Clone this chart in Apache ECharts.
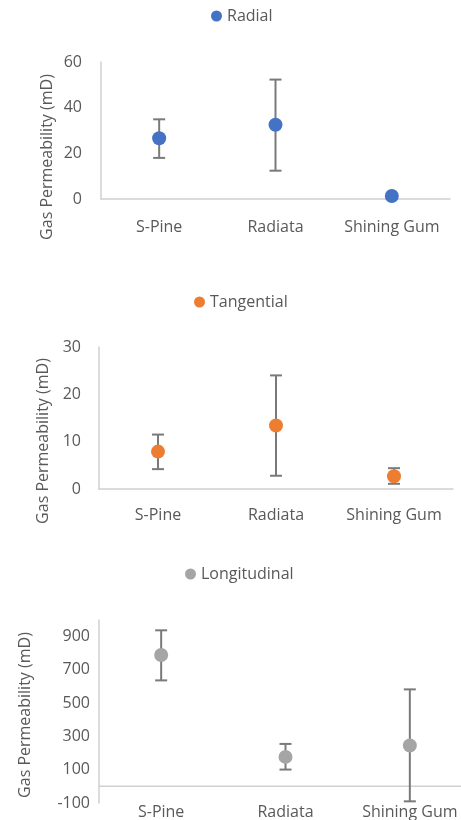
<!DOCTYPE html>
<html>
<head>
<meta charset="utf-8">
<script src="https://cdn.jsdelivr.net/npm/echarts@6/dist/echarts.min.js"></script>
<style>
  html, body { margin: 0; padding: 0; background: #ffffff; }
  #chart { width: 461px; height: 820px; }
</style>
</head>
<body>
<div id="chart"></div>
<script>
// Wood species along the horizontal axis
const categories = ['S-Pine', 'Radiata', 'Shining Gum'];

// Radial direction: mean gas permeability (mD) and error-bar limits
const radialMean = [26.6, 32.5, 1.3];
const radialLow = [18.0, 12.4, 0.9];
const radialHigh = [34.9, 52.3, 1.7];

// Tangential direction
const tangentialMean = [7.9, 13.4, 2.7];
const tangentialLow = [4.2, 2.8, 1.1];
const tangentialHigh = [11.5, 24.0, 4.4];

// Longitudinal direction
const longitudinalMean = [790, 177, 246];
const longitudinalLow = [637, 101, -90];
const longitudinalHigh = [938, 255, 583];

// Value-axis tick labels for each panel
const radialTicks = [0, 20, 40, 60];
const tangentialTicks = [0, 10, 20, 30];
const longitudinalTicks = [-100, 100, 300, 500, 700, 900];

// level at which the longitudinal panel's horizontal axis crosses
const longitudinalCross = [0];

const FONT = '"Open Sans", "Liberation Sans", sans-serif';
const TEXT = '#595959';
const AXIS = '#d0d0d0';
const BAR = '#7a7a7a';

const chart = echarts.init(document.getElementById('chart'), null, { renderer: 'canvas' });

function errorBars(params, api) {
  const idx = api.value(0);
  const top = api.coord([idx, api.value(2)]);
  const bot = api.coord([idx, api.value(1)]);
  const w = 6;
  const style = { stroke: BAR, lineWidth: 2 };
  return {
    type: 'group',
    children: [
      { type: 'line', shape: { x1: top[0], y1: top[1], x2: bot[0], y2: bot[1] }, style },
      { type: 'line', shape: { x1: top[0] - w, y1: top[1], x2: top[0] + w, y2: top[1] }, style },
      { type: 'line', shape: { x1: bot[0] - w, y1: bot[1], x2: bot[0] + w, y2: bot[1] }, style }
    ]
  };
}

// full-width horizontal rule at a value level
function crossLine(params, api) {
  const cs = params.coordSys;
  const y = api.coord([0, api.value(0)])[1];
  return {
    type: 'line',
    shape: { x1: cs.x, y1: y, x2: cs.x + cs.width, y2: y },
    style: { stroke: AXIS, lineWidth: 1.5 }
  };
}

function barData(low, high) {
  return categories.map((c, i) => [i, low[i], high[i]]);
}

function catAxis(gridIndex, margin, showLine) {
  return {
    type: 'category',
    gridIndex,
    data: categories,
    boundaryGap: true,
    axisTick: { show: false },
    axisLine: { show: showLine, onZero: false, lineStyle: { color: AXIS, width: 1.5 } },
    axisLabel: { color: TEXT, fontFamily: FONT, fontSize: 16, margin, interval: 0 },
    splitLine: { show: false }
  };
}

function valAxis(gridIndex, min, max, ticks, margin) {
  return {
    type: 'value',
    gridIndex,
    min,
    max,
    axisLine: { show: true, lineStyle: { color: AXIS, width: 1.5 } },
    axisTick: { show: false },
    splitLine: { show: false },
    axisLabel: {
      color: TEXT, fontFamily: FONT, fontSize: 16, margin,
      customValues: ticks
    }
  };
}

function legend(name, left, top) {
  return {
    data: [name],
    left, top,
    padding: 0,
    icon: 'circle',
    itemWidth: 11,
    itemHeight: 11,
    selectedMode: false,
    textStyle: { color: TEXT, fontFamily: FONT, fontSize: 16 }
  };
}

function yTitle(x, y) {
  return {
    type: 'text',
    x, y,
    rotation: Math.PI / 2,
    silent: true,
    style: {
      text: 'Gas Permeability (mD)',
      fill: TEXT,
      font: '16px ' + FONT,
      textAlign: 'center',
      textVerticalAlign: 'middle'
    }
  };
}

function points(name, color, xi, yi, data) {
  return {
    name, type: 'scatter', xAxisIndex: xi, yAxisIndex: yi,
    data, symbol: 'circle', symbolSize: 14, z: 3,
    itemStyle: { color, opacity: 1 }
  };
}

function bars(xi, yi, low, high) {
  return {
    name: 'err' + xi, type: 'custom', xAxisIndex: xi, yAxisIndex: yi,
    renderItem: errorBars, encode: { x: 0, y: [1, 2] },
    data: barData(low, high), z: 2, silent: true
  };
}

const option = {
  animation: false,
  backgroundColor: '#ffffff',
  textStyle: { fontFamily: FONT },
  legend: [
    legend('Radial', 211, 8),
    legend('Tangential', 194, 294),
    legend('Longitudinal', 185, 566)
  ],
  grid: [
    { left: 101, top: 62, width: 349, height: 137, outerBoundsMode: 'none' },
    { left: 99, top: 347, width: 354, height: 142, outerBoundsMode: 'none' },
    { left: 99, top: 620, width: 373, height: 183, outerBoundsMode: 'none' }
  ],
  xAxis: [
    catAxis(0, 20, true),
    catAxis(1, 18, true),
    catAxis(2, 1, false)
  ],
  yAxis: [
    valAxis(0, 0, 60, radialTicks, 19),
    valAxis(1, 0, 30, tangentialTicks, 18),
    valAxis(2, -100, 1000, longitudinalTicks, 9)
  ],
  graphic: [
    yTitle(47, 157),
    yTitle(43, 441),
    yTitle(25, 715)
  ],
  series: [
    bars(0, 0, radialLow, radialHigh),
    points('Radial', '#4472C4', 0, 0, radialMean),
    bars(1, 1, tangentialLow, tangentialHigh),
    points('Tangential', '#ED7D31', 1, 1, tangentialMean),
    {
      name: 'axis2', type: 'custom', xAxisIndex: 2, yAxisIndex: 2,
      renderItem: crossLine, encode: { y: 0 },
      data: longitudinalCross.map(v => [v]), z: 1, silent: true
    },
    bars(2, 2, longitudinalLow, longitudinalHigh),
    points('Longitudinal', '#A5A5A5', 2, 2, longitudinalMean)
  ]
};

chart.setOption(option);
</script>
</body>
</html>
